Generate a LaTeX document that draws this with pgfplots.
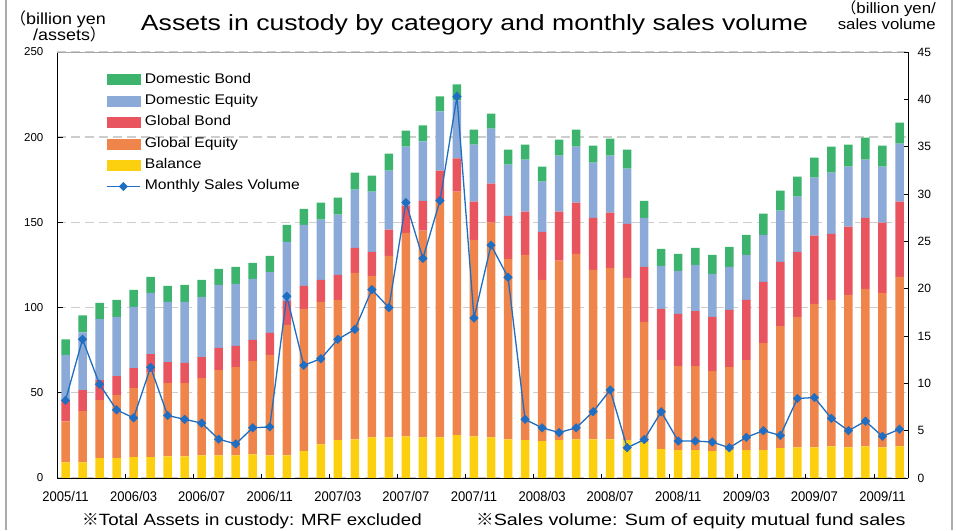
\documentclass[border=0pt]{standalone}
\usepackage{graphicx}
\usepackage{pgfplots}
\pgfplotsset{compat=1.18}
\usepackage{pgfplotstable}
\usepackage{fontspec}
\setmainfont{Liberation Sans}[FakeStretch=1.12]
\newfontfamily\tickfont{Liberation Sans}
\newfontfamily\xtickfont{Liberation Sans}[FakeStretch=0.93]
\newfontfamily\jp{Noto Sans CJK JP}
\definecolor{cDB}{HTML}{3DB46D}
\definecolor{cDE}{HTML}{8CAAD8}
\definecolor{cGB}{HTML}{E8555F}
\definecolor{cGE}{HTML}{EF854A}
\definecolor{cBA}{HTML}{FDD00F}
\definecolor{cLN}{HTML}{1F6EC1}
\definecolor{cGrid}{HTML}{CDCDCD}
\definecolor{cFrame}{HTML}{ABABAB}
\pgfplotstableread{
x bal ge gb de db sales
0 9.2 24.1 12.4 26.5 9.2 8.2
1 9.2 30.0 12.4 33.9 10.0 14.65
2 11.6 34.1 11.8 35.8 9.4 9.9
3 11.6 37.0 11.2 34.7 10.0 7.2
4 12.2 40.5 11.8 35.9 10.0 6.35
5 12.2 49.6 10.9 35.9 9.4 11.7
6 12.7 43.0 12.3 35.3 9.4 6.6
7 12.7 43.0 11.8 35.8 10.0 6.2
8 13.3 45.3 12.4 35.3 10.0 5.8
9 13.3 50.0 13.0 37.0 9.4 4.1
10 13.3 51.8 12.4 36.4 10.0 3.6
11 13.9 54.7 12.4 35.9 9.4 5.3
12 13.3 58.9 12.9 35.9 9.4 5.4
13 13.3 76.5 14.1 34.7 10.0 19.2
14 15.7 83.5 13.5 35.9 9.4 11.9
15 19.8 83.5 13.0 35.3 10.0 12.6
16 22.2 82.3 14.7 35.3 10.0 14.65
17 22.7 97.7 14.7 34.1 10.0 15.7
18 23.9 94.7 14.1 35.3 9.5 19.9
19 23.9 106.5 15.3 34.7 10.0 18.0
20 24.5 119.4 15.9 34.7 9.4 29.1
21 23.9 121.2 17.6 34.8 9.4 23.2
22 23.9 138.8 17.7 34.7 8.8 29.3
23 25.1 142.9 19.5 34.1 9.4 40.3
24 24.5 115.3 22.4 33.5 8.8 16.9
25 23.9 125.9 22.9 32.4 8.8 24.6
26 22.7 105.9 25.3 30.0 8.8 21.2
27 22.2 108.8 25.3 30.6 8.8 6.2
28 21.6 94.7 28.2 29.4 8.8 5.3
29 22.2 105.3 28.8 32.9 9.4 4.8
30 22.7 108.9 30.0 32.9 10.0 5.3
31 22.7 99.5 30.5 32.4 10.0 7.0
32 22.7 100.6 32.4 33.5 10.0 9.3
33 22.2 95.3 31.7 32.4 11.1 3.2
34 21.0 70.6 32.3 28.8 10.0 4.06
35 16.9 52.3 30.0 25.3 10.0 7.0
36 16.3 49.4 30.6 25.3 10.0 3.9
37 16.3 49.4 32.3 27.1 10.0 3.9
38 15.7 47.0 31.8 25.3 11.2 3.8
39 16.3 48.8 33.5 25.3 11.8 3.2
40 16.3 52.9 35.3 26.5 11.7 4.3
41 16.3 62.9 35.9 27.6 12.4 5.0
42 17.5 71.7 37.7 30.0 11.7 4.5
43 18.0 76.5 38.2 32.4 11.8 8.4
44 18.0 84.2 40.0 34.1 11.7 8.5
45 18.6 85.9 38.8 35.9 15.3 6.3
46 18.0 89.5 40.0 35.2 13.0 5.0
47 18.6 92.4 41.7 34.2 12.9 6.0
48 18.0 90.6 41.2 32.9 12.4 4.4
49 18.6 99.4 44.2 34.1 12.3 5.15
}\assets
\begin{document}
\begin{tikzpicture}
\path[use as bounding box] (0pt,0pt) rectangle (957pt,530pt);
\draw[cFrame, line width=2pt] (5.7pt,0pt) -- (5.7pt,530pt);
\draw[cFrame, line width=2pt] (952pt,0pt) -- (952pt,530pt);
\begin{axis}[
  at={(57pt,52pt)}, anchor=south west,
  scale only axis, width=851pt, height=426pt,
  xmin=-0.5, xmax=49.5, ymin=0, ymax=250,
  ybar stacked, bar width=8.5pt,
  axis x line=none, axis y line*=left,
  axis line style={black, line width=1pt},
  tick align=inside, major tick length=6pt,
  tick style={black, line width=0.8pt},
  xtick=\empty,
  ytick={0,50,...,250},
  ymajorgrids, grid style={cGrid, line width=1.4pt, dash pattern=on 9pt off 5pt},
  yticklabel style={font=\tickfont\fontsize{11.5}{13}\selectfont, anchor=east, inner sep=0pt, xshift=-13.5pt},
  /pgf/number format/assume math mode=true,
  legend cell align=left,
  legend style={at={(0.0576,0.9519)}, anchor=north west, draw=none, fill=none,
    inner sep=0pt, row sep=7.35pt,
    nodes={inner sep=0pt, text height=10.5pt, text depth=3.5pt, font=\fontsize{14}{16}\selectfont},
    /tikz/every odd column/.append style={column sep=4.3pt}},
]
\addplot[fill=cBA, draw=none, forget plot] table[x=x,y=bal]{\assets};
\addplot[fill=cGE, draw=none, forget plot] table[x=x,y=ge]{\assets};
\addplot[fill=cGB, draw=none, forget plot] table[x=x,y=gb]{\assets};
\addplot[fill=cDE, draw=none, forget plot] table[x=x,y=de]{\assets};
\addplot[fill=cDB, draw=none, forget plot] table[x=x,y=db]{\assets};
\addlegendimage{legend image code/.code={\fill[cDB] (0pt,-5pt) rectangle (33pt,5pt);}}
\addlegendentry{Domestic Bond}
\addlegendimage{legend image code/.code={\fill[cDE] (0pt,-5pt) rectangle (33pt,5pt);}}
\addlegendentry{Domestic Equity}
\addlegendimage{legend image code/.code={\fill[cGB] (0pt,-5pt) rectangle (33pt,5pt);}}
\addlegendentry{Global Bond}
\addlegendimage{legend image code/.code={\fill[cGE] (0pt,-5pt) rectangle (33pt,5pt);}}
\addlegendentry{Global Equity}
\addlegendimage{legend image code/.code={\fill[cBA] (0pt,-5pt) rectangle (33pt,5pt);}}
\addlegendentry{Balance}
\addlegendimage{legend image code/.code={\draw[cLN, line width=1.3pt] (0pt,0pt) -- (33pt,0pt); \fill[cLN] (16.5pt,0pt) +(0pt,4.2pt) -- +(4.2pt,0pt) -- +(0pt,-4.2pt) -- +(-4.2pt,0pt) -- cycle;}}
\addlegendentry{Monthly Sales Volume}
\draw[gray!70, line width=0.8pt] (rel axis cs:0,1) -- (rel axis cs:1,1);
\end{axis}
\begin{axis}[
  at={(57pt,52pt)}, anchor=south west,
  scale only axis, width=851pt, height=426pt,
  xmin=-0.5, xmax=49.5, ymin=0, ymax=45,
  axis x line*=bottom, axis y line*=right,
  axis line style={black, line width=1pt},
  tick align=inside, major tick length=4pt,
  tick style={black, line width=0.8pt},
  ytick={0,5,...,45},
  xtick={-0.5,3.5,...,47.5},
  xticklabels={2005/11,2006/03,2006/07,2006/11,2007/03,2007/07,2007/11,2008/03,2008/07,2008/11,2009/03,2009/07,2009/11},
  xticklabel style={font=\xtickfont\fontsize{14}{16}\selectfont, anchor=north, inner sep=0pt, xshift=8.51pt, yshift=-13pt},
  yticklabel style={font=\tickfont\fontsize{12}{14}\selectfont, anchor=west, inner sep=0pt, xshift=9.5pt},
  /pgf/number format/assume math mode=true,
]
\addplot[cLN, line width=1.3pt, mark=square*, mark size=3pt, mark options={rotate=45, fill=cLN, draw=cLN, line width=0.5pt}] table[x=x,y=sales]{\assets};
\end{axis}
\node[anchor=base, inner sep=0pt, font=\fontsize{22}{26}\selectfont] at (474.5pt,499.3pt) {\scalebox{1.08}[1]{Assets in custody by category and monthly sales volume}};
\node[anchor=base west, inner sep=0pt, font=\fontsize{16}{19}\selectfont] at (10pt,505pt) {{\jp （}billion yen};
\node[anchor=base west, inner sep=0pt, font=\fontsize{16}{19}\selectfont] at (33pt,489.5pt) {/assets{\jp ）}};
\node[anchor=base east, inner sep=0pt, font=\fontsize{15}{17}\selectfont] at (936pt,516pt) {{\jp （}billion yen/};
\node[anchor=base east, inner sep=0pt, font=\fontsize{15}{17}\selectfont] at (936pt,500.5pt) {sales volume};
\node[anchor=base west, inner sep=0pt, font=\fontsize{16.3}{19}\selectfont] at (82pt,5pt) {\scalebox{1.024}[1]{{\jp ※}Total Assets in custody: MRF excluded}};
\node[anchor=base west, inner sep=0pt, font=\fontsize{16.3}{19}\selectfont] at (476pt,5pt) {\scalebox{1.08}[1]{{\jp ※}Sales volume: Sum of equity mutual fund sales}};
\end{tikzpicture}
\end{document}
